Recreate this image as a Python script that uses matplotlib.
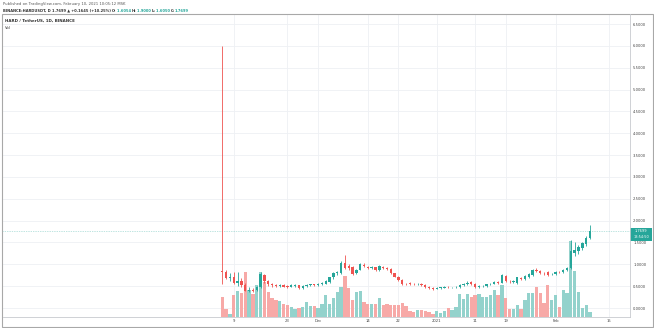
import matplotlib
matplotlib.use("Agg")
import matplotlib.pyplot as plt
import matplotlib.dates as mdates
from matplotlib.patches import Rectangle
from matplotlib.lines import Line2D
from matplotlib.transforms import IdentityTransform
import numpy as np
import pandas as pd

# ---------------- data ----------------
dates = pd.date_range("2020-11-06", "2021-02-10", freq="D")

opens = [0.85, 0.82, 0.68, 0.70, 0.58, 0.62, 0.52, 0.40, 0.42, 0.41,
         0.47, 0.76, 0.62, 0.54, 0.53, 0.50, 0.52, 0.50, 0.49, 0.51,
         0.52, 0.46, 0.50, 0.52, 0.54, 0.53, 0.55, 0.56, 0.60, 0.70,
         0.79, 0.80, 1.02, 0.96, 0.95, 0.80, 0.88, 0.99, 0.95, 0.92,
         0.93, 0.86, 0.95, 0.91, 0.89, 0.79, 0.71, 0.64, 0.56, 0.57,
         0.56, 0.54, 0.55, 0.53, 0.48, 0.45, 0.44, 0.46, 0.46, 0.48,
         0.47, 0.47, 0.48, 0.52, 0.55, 0.59, 0.56, 0.47, 0.50, 0.51,
         0.54, 0.56, 0.59, 0.58, 0.73, 0.62, 0.60, 0.57, 0.69, 0.66,
         0.72, 0.76, 0.88, 0.84, 0.80, 0.82, 0.77, 0.77, 0.83, 0.82,
         0.86, 0.92, 1.25, 1.30, 1.38, 1.47, 1.6054]
highs = [6.00, 0.86, 0.80, 0.82, 0.82, 0.68, 0.58, 0.48, 0.46, 0.50,
         0.82, 0.78, 0.64, 0.57, 0.55, 0.55, 0.54, 0.52, 0.54, 0.55,
         0.53, 0.52, 0.54, 0.56, 0.56, 0.57, 0.59, 0.64, 0.72, 0.82,
         0.85, 1.08, 1.21, 1.00, 0.97, 0.90, 1.04, 1.02, 0.97, 0.96,
         0.95, 0.98, 0.97, 0.93, 0.91, 0.80, 0.73, 0.66, 0.58, 0.59,
         0.58, 0.57, 0.57, 0.54, 0.50, 0.47, 0.48, 0.49, 0.50, 0.50,
         0.49, 0.50, 0.54, 0.57, 0.61, 0.62, 0.58, 0.52, 0.53, 0.56,
         0.58, 0.61, 0.61, 0.78, 0.75, 0.64, 0.63, 0.72, 0.71, 0.76,
         0.80, 0.90, 0.92, 0.86, 0.82, 0.84, 0.80, 0.85, 0.85, 0.89,
         0.94, 1.55, 1.52, 1.45, 1.52, 1.64, 1.90]
lows = [0.55, 0.66, 0.62, 0.55, 0.50, 0.48, 0.38, 0.36, 0.37, 0.39,
        0.45, 0.58, 0.50, 0.49, 0.48, 0.48, 0.47, 0.46, 0.47, 0.49,
        0.43, 0.44, 0.48, 0.50, 0.51, 0.51, 0.53, 0.54, 0.58, 0.66,
        0.76, 0.78, 0.90, 0.88, 0.75, 0.77, 0.86, 0.93, 0.89, 0.90,
        0.84, 0.85, 0.90, 0.87, 0.78, 0.70, 0.62, 0.52, 0.52, 0.53,
        0.53, 0.52, 0.51, 0.46, 0.44, 0.42, 0.43, 0.44, 0.45, 0.45,
        0.45, 0.45, 0.46, 0.50, 0.53, 0.53, 0.45, 0.45, 0.48, 0.49,
        0.52, 0.54, 0.56, 0.57, 0.60, 0.58, 0.57, 0.54, 0.64, 0.64,
        0.68, 0.73, 0.82, 0.77, 0.76, 0.74, 0.75, 0.75, 0.80, 0.80,
        0.84, 0.90, 1.18, 1.24, 1.33, 1.43, 1.58]
closes = [0.83, 0.68, 0.71, 0.58, 0.62, 0.52, 0.40, 0.42, 0.40, 0.47,
          0.78, 0.62, 0.54, 0.52, 0.50, 0.52, 0.49, 0.49, 0.52, 0.52,
          0.45, 0.50, 0.52, 0.54, 0.53, 0.55, 0.57, 0.62, 0.70, 0.80,
          0.82, 1.04, 0.92, 0.92, 0.78, 0.86, 1.00, 0.96, 0.92, 0.93,
          0.86, 0.96, 0.92, 0.89, 0.80, 0.72, 0.64, 0.55, 0.54, 0.55,
          0.55, 0.55, 0.53, 0.48, 0.45, 0.44, 0.46, 0.47, 0.48, 0.47,
          0.475, 0.48, 0.52, 0.55, 0.58, 0.55, 0.47, 0.50, 0.51, 0.54,
          0.56, 0.59, 0.58, 0.76, 0.62, 0.61, 0.61, 0.71, 0.66, 0.74,
          0.78, 0.88, 0.84, 0.79, 0.79, 0.76, 0.78, 0.83, 0.82, 0.87,
          0.92, 1.30, 1.33, 1.39, 1.49, 1.605, 1.7699]
volumes = [20, 8, 3, 22, 26, 24, 45, 27, 23, 32,
           45, 35, 25, 19, 17, 16, 13, 12, 10, 8,
           9, 10, 15, 11, 11, 9, 13, 22, 13, 19,
           25, 30, 41, 29, 17, 25, 26, 15, 13, 13,
           13, 19, 12, 13, 12, 12, 12, 14, 11, 6,
           5, 7, 7, 6, 5, 3, 6, 4, 6, 9,
           7, 10, 23, 18, 23, 20, 22, 23, 20, 20,
           22, 27, 22, 32, 19, 8, 8, 12, 8, 17,
           24, 24, 30, 24, 14, 32, 17, 22, 10, 27,
           24, 76, 46, 25, 9, 12, 5]

tick_dates = ["2020-11-09", "2020-11-23", "2020-12-01", "2020-12-14", "2020-12-22",
              "2021-01-01", "2021-01-11", "2021-01-19", "2021-02-01", "2021-02-15"]
tick_labels = ["9", "23", "Dec", "14", "22", "2021", "11", "19", "Feb", "15"]
price_ticks = [0.0, 0.5, 1.0, 1.5, 2.0, 2.5, 3.0, 3.5, 4.0, 4.5, 5.0, 5.5, 6.0, 6.5]
last_price = 1.7699
countdown = "13:54:50"

# ---------------- style ----------------
UP = "#26a69a"
DOWN = "#ef5350"
UP_VOL = "#93d2cc"
DOWN_VOL = "#f7a9a7"
GRID = "#eef0f4"
W, H = 654, 328

fig = plt.figure(figsize=(W / 100, H / 100), dpi=100)
fig.patch.set_facecolor("white")

ax = fig.add_axes([3 / W, 11 / H, 627 / W, 303 / H])
axv = ax.twinx()

x = mdates.date2num(dates)
d0 = x[0]
o = np.array(opens); h = np.array(highs); l = np.array(lows); c = np.array(closes)
up = c >= o

ax.set_xlim(d0 - 57.26, d0 + 106.45)
ax.set_ylim(-0.206, 6.73)

# grid on the lower (volume) layer
for t in tick_dates:
    axv.axvline(mdates.date2num(pd.Timestamp(t)), color=GRID, lw=0.6, zorder=0)
for p in price_ticks:
    axv.add_line(Line2D([0, 1], [p, p], transform=ax.get_yaxis_transform(),
                        color=GRID, lw=0.6, zorder=0))

# volume overlay
axv.bar(x, volumes, width=0.86, color=[UP_VOL if u else DOWN_VOL for u in up],
        linewidth=0, zorder=1)
axv.set_ylim(0, 303)
axv.set_yticks([])
for s in axv.spines.values():
    s.set_visible(False)

# candles
ax.set_zorder(axv.get_zorder() + 1)
ax.patch.set_visible(False)
col = [UP if u else DOWN for u in up]
ax.vlines(x, l, h, colors=col, linewidth=0.6, zorder=3)
body_lo = np.minimum(o, c)
body_h = np.maximum(np.abs(c - o), 0.01)
ax.bar(x, body_h, bottom=body_lo, width=0.62, color=col, linewidth=0, zorder=4)

# last price line
ax.axhline(last_price, color=UP, lw=0.5, ls=(0, (1, 1.5)), alpha=0.6, zorder=2)

ax.set_xticks([mdates.date2num(pd.Timestamp(t)) for t in tick_dates])
ax.set_xticklabels(tick_labels)
ax.yaxis.tick_right()
ax.set_yticks(price_ticks)
ax.set_yticklabels(["%.4f" % p for p in price_ticks])
ax.tick_params(axis="both", length=0, labelsize=2.7, colors="#444444")
ax.tick_params(axis="y", pad=2.2)
ax.tick_params(axis="x", pad=1.6)
for side in ["top", "left"]:
    ax.spines[side].set_visible(False)
for side in ["bottom", "right"]:
    ax.spines[side].set_color("#c8cacf")
    ax.spines[side].set_linewidth(0.6)

# outer frame
fig.add_artist(Rectangle((1.5, 1.0), 651, H - 15, transform=IdentityTransform(),
                         fill=False, edgecolor="#a8a8a8", linewidth=0.8))

# price label boxes
fig.add_artist(Rectangle((630, H - 234), 22, 6.2, transform=IdentityTransform(),
                         facecolor=UP, edgecolor="none"))
fig.add_artist(Rectangle((630, H - 240.5), 22, 6.2, transform=IdentityTransform(),
                         facecolor=UP, edgecolor="none"))
fig.text(641, H - 231, "%.4f" % last_price, transform=IdentityTransform(),
         ha="center", va="center", fontsize=2.6, color="white")
fig.text(641, H - 237.4, countdown, transform=IdentityTransform(),
         ha="center", va="center", fontsize=2.5, color="white")

# header texts
renderer = fig.canvas.get_renderer()


def seq_text(x0, y_from_top, parts, size, weight="normal"):
    xx = x0
    for s, colr in parts:
        t = fig.text(xx, H - y_from_top, s, transform=IdentityTransform(),
                     ha="left", va="center", fontsize=size, color=colr, fontweight=weight)
        bb = t.get_window_extent(renderer)
        xx = bb.x1


seq_text(3, 4.5, [("Published on TradingView.com, February 10, 2021 10:05:12 MSK", "#555555")], 2.7)
seq_text(3, 10.5, [("BINANCE:HARDUSDT, D 1.7699 \u25b2 +0.1645 (+10.25%) ", "#333333"),
                   ("O:", "#333333"), ("1.6054 ", UP),
                   ("H:", "#333333"), ("1.9000 ", UP),
                   ("L:", "#333333"), ("1.6050 ", UP),
                   ("C:", "#333333"), ("1.7699", UP)], 2.6, "bold")
seq_text(5, 21, [("HARD / TetherUS, 1D, BINANCE", "#333333")], 2.9, "bold")
seq_text(5, 28, [("Vol", "#333333")], 2.7)

fig.savefig("out.png", dpi=100, facecolor="white")
